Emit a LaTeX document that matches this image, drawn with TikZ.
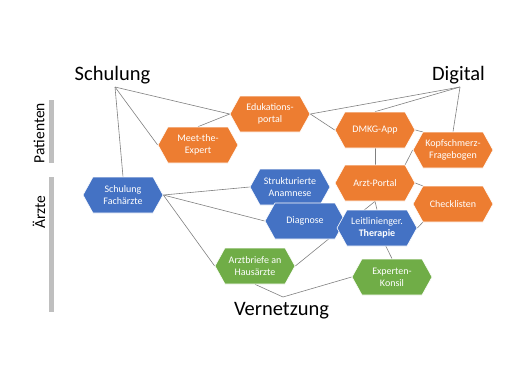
\documentclass[tikz,border=0pt]{standalone}
\usepackage{fontspec}
\setmainfont{Carlito}
\usetikzlibrary{shapes,positioning,calc,backgrounds}

\definecolor{dmkgorange}{HTML}{ED7D31}
\definecolor{dmkgblue}{HTML}{4472C4}
\definecolor{dmkggreen}{HTML}{70AD47}
\definecolor{linkgray}{HTML}{808080}
\definecolor{bargray}{HTML}{BFBFBF}

\tikzset{
  hexbox/.style={signal, signal to=east and west, signal pointer angle=122,
    minimum width=80pt, minimum height=36pt, inner sep=0pt,
    draw=white, line width=0.6pt, text=white, align=center,
    font=\fontsize{10}{12}\selectfont},
  patient/.style={hexbox, fill=dmkgorange},
  doctor/.style={hexbox, fill=dmkgblue},
  network/.style={hexbox, fill=dmkggreen},
  link/.style={draw=linkgray, line width=0.6pt},
  headline/.style={font=\fontsize{20.5}{24}\selectfont, anchor=base},
  sidelabel/.style={font=\fontsize{15.5}{18}\selectfont, rotate=90},
  sidebar/.style={fill=bargray, draw=none}
}

\begin{document}
\begin{tikzpicture}[x=1pt, y=-1pt]
\useasboundingbox (0,0) rectangle (529,378);

% headlines and their hubs
\node[headline] (schulung) at (112.5,80) {Schulung};
\node[headline] (digital) at (458.5,80) {Digital};
\node[headline] (vernetzung) at (281.5,315) {Vernetzung};
\coordinate (schulhub) at (115,87);
\coordinate (digihub) at (460,87);
\coordinate (vernhub) at (283,297);

% side labels
\fill[sidebar] (49,100) rectangle (54,163);
\fill[sidebar] (49,177) rectangle (54,312);
\node[sidelabel] (patienten) at (39,133) {Patienten};
\node[sidelabel] (aerzte) at (39,212) {Ärzte};

% patient side
\node[patient] (edu) at (270,114) {Edukations-\\portal};
\node[patient] (meet) at (198,145) {Meet-the-\\Expert};
\node[patient] (dmkg) at (375,130) {DMKG-App};
\node[patient] (kopf) at (453,150) {Kopfschmerz-\\Fragebogen};

% doctors
\node[doctor] (fach) at (123,195) {Schulung\\Fachärzte};
\node[doctor] (anam) at (290,187) {Strukturierte\\Anamnese};
\node[doctor] (diag) at (305,221) {Diagnose};
\node[patient] (portal) at (375,183) {Arzt-Portal};
\node[patient] (check) at (453,204) {Checklisten};
\node[doctor] (leit) at (377,228) {Leitlinienger.\\\textbf{Therapie}};

% network
\node[network] (brief) at (255,266) {Arztbriefe an\\Hausärzte};
\node[network] (konsil) at (392,277) {Experten-\\Konsil};

\begin{scope}[on background layer]
\draw[link] (schulhub) -- (edu.west);
\draw[link] (schulhub) -- (meet.west);
\draw[link] (schulhub) -- (fach.north);
\draw[link] (meet.north) -- (edu.west);
\draw[link] (edu.east) -- (dmkg.west);
\draw[link] (digihub) -- (edu.east);
\draw[link] (digihub) -- (dmkg.north);
\draw[link] (digihub) -- (kopf.north);
\draw[link] (dmkg.south) -- (portal.north);
\draw[link] (dmkg.east) -- ($(kopf.center)+(-30,-18)$);
\draw[link] ($(portal.center)+(30,-18)$) -- (kopf.west);
\draw[link] (portal.east) -- ($(check.center)+(-30,-18)$);
\draw[link] ($(check.center)+(-30,18)$) -- (leit.east);
\draw[link] (portal.south) -- (leit.north);
\draw[link] (fach.east) -- (anam.west);
\draw[link] (fach.east) -- (diag.west);
\draw[link] (fach.east) -- (brief.west);
\draw[link] (brief.east) -- (portal.south);
\draw[link] (konsil.north) -- (leit.center);
\draw[link] (vernhub) -- (brief.south);
\draw[link] (vernhub) -- (konsil.west);
\end{scope}
\end{tikzpicture}
\end{document}
